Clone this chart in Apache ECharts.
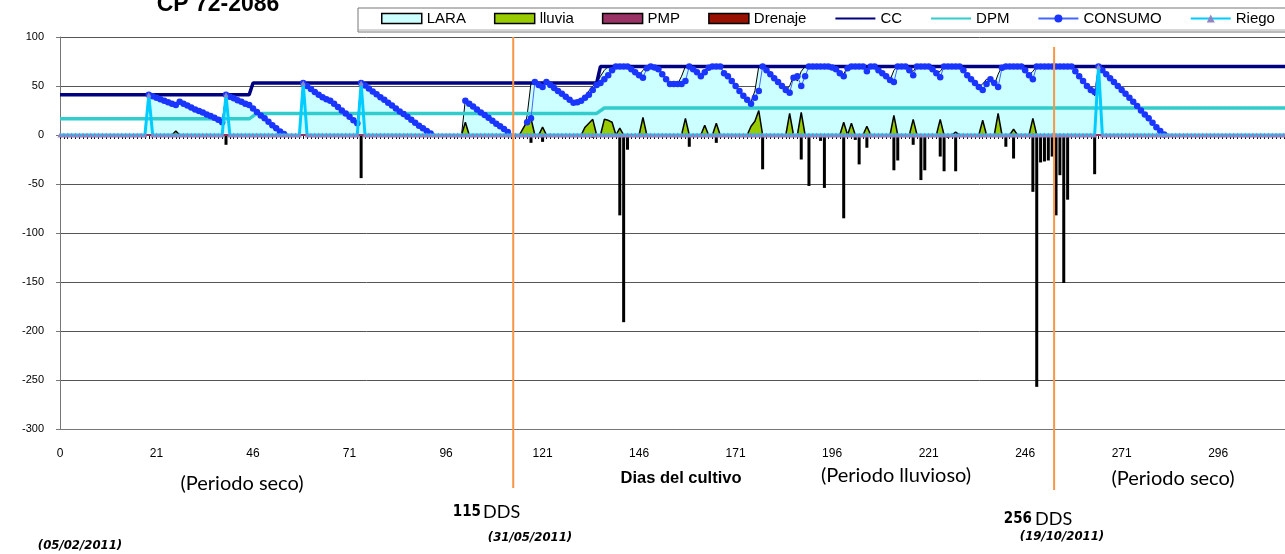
<!DOCTYPE html>
<html><head><meta charset="utf-8">
<script src="https://cdn.jsdelivr.net/npm/echarts@6.0.0/dist/echarts.min.js"></script>
<style>html,body{margin:0;padding:0;background:#fff}#c{width:1285px;height:554px}</style>
</head><body><div id="c"></div>
<script>
// ---------- DATA ----------
const xMax = 330;                       // last day position on the axis
const xTickLabels = ['0','21','46','71','96','121','146','171','196','221','246','271','296'];
const yTickValues = [100,50,0,-50,-100,-150,-200,-250,-300];

// LARA (day index 0..287)
const lara = [
  0,0,0,0,0,0,0,0,0,0, 0,0,0,0,0,0,0,0,0,0, 0,0,0,
  41,39.5,38,36.5,35,33.5,32,30.5,34,32,30,28,26,24.5,23,21,19.5,17.5,15.5,13,
  41,39,37.5,35.5,34,32,30.5,27,23.5,20,17,13.5,10,7,3.5,0,
  0,0,0,0,
  53,50,47,44,41,38.5,36.5,35,32,28.5,25,22,18.5,15,12,
  53,50.5,47.5,44.5,41.5,38.5,36,33,30,27,24,21.5,18.5,15.5,12.5,9.5,7,4,0,
  0,0,0,0,0,0,0,0,
  36,32,29,26,23,20.5,17.5,14.5,11.5,9,6,0,
  0,0,0,0,
  20,53,54,51,52,54,51,48,45,42,39,36,33,34,36,40,45,50,53,60,66,70,70,
  70,70,70,70,67,64,61,66,70,70,69,67,62,57,52,52,52,60,70,
  70,67,64,62,66,70,70,70,70,63,60,55,50,45,40,36,34,45,70,70,
  66,62,58,54,50,46,50,60,55,65,70,70,70,70,70,70,70,
  69,67,63,62,70,70,70,70,68,70,70,70,66,63,60,56,66,70,
  70,70,66,65,70,70,70,70,67,63,65,70,70,70,70,70,
  66,61,57,53,49,52,57,55,51,62,70,70,70,70,70,70,66,61,65,70,
  70,70,70,70,70,70,70,70,70,65,60,55,50,46,40,
  70,66,62,58,54,50,46,42,38,34,29.5,25,21,17,12.5,8,4,0,0
];

// CONSUMO (day index 0..286, null = no value)
const consumo = [
  null,null,null,null,null,null,null,null,null,null,
  null,null,null,null,null,null,null,null,null,null,
  null,null,null,
  41,39.5,38,36.5,35,33.5,32,30.5,34,32,30,28,26,24.5,23,21,19.5,17.5,15.5,13,
  41,39,37.5,35.5,34,32,30.5,27,23.5,20,17,13.5,10,7,3.5,1,
  null,null,null,null,
  53,50,47,44,41,38.5,36.5,35,32,28.5,25,22,18.5,15,12,
  53,50.5,47.5,44.5,41.5,38.5,36,33,30,27,24,21.5,18.5,15.5,12.5,9.5,7,4,1.5,
  null,null,null,null,null,null,null,null,
  35,32,29,26,23,20.5,17.5,14.5,11.5,9,6,3,
  null,null,null,null,
  13,17,54,51,49,54,51,48,45,42,39,36,33,33.5,35,38,41,46,51,53,57,61,66,
  70,70,70,70,67,64,61,58.5,68,70,69,67,62,57,52,52,52,52,55,
  70,67,64,60,64,68.5,70,70,70,63,60,55,50,45,40,36,32,38,45,70,
  66,62,58,54,50,46,43,58.5,60,50,60,70,70,70,70,70,70,
  69,67,63,60,68,70,70,70,70,65,70,70,66,63,60,56,54,70,
  70,70,66,61,70,70,70,70,67,63,59,70,70,70,70,70,
  66,61,57,53,49,46,52,57,53,49,68.5,70,70,70,70,70,66,61,57,70,
  70,70,70,70,70,70,70,70,70,65,60,55,50,46,44,
  70,66,62,58,54,50,46,42,38,34,29.5,25,21,17,12.5,8,4,0.5
];

// lluvia (rain) events
const lluviaDays = [30,105,120,121,122,125,136,137,138,141,142,143,145,151,162,167,170,179,180,181,189,192,203,205,209,216,221,228,232,239,243,247,252];
const lluviaVals = [4,13,7,14,17,8,8,12,16,16,15,13,7,18,17,10,12,9,14,25,22,23,13,12,9,20,16,16,3,15,22,6,17];

// Drenaje events (negative)
const drenDays = [43,78,122,125,138,145,146,147,163,170,182,192,194,197,198,203,206,207,209,216,217,221,223,224,228,229,230,232,245,247,252,253,254,255,256,257,258,259,260,261,268];
const drenVals = [-10,-44,-8,-7,-3,-82,-191,-15,-12,-8,-35,-25,-52,-6,-54,-85,-5,-30,-13,-36,-26,-10,-46,-36,-22,-37,-3,-37,-12,-24,-58,-257,-28,-27,-26,-22,-82,-41,-151,-66,-40];

// Riego (irrigation) events
const riegoDays = [23,43,63,78,269];
const riegoVals = [41,41,53,53,70];

// CC and DPM (breakpoints)
const ccDays = [0,49,50,139,140,330];
const ccVals = [41,41,53,53,70,70];
const dpmDays = [0,49,51,139,141,330];
const dpmVals = [16.5,16.5,22,22,27.5,27.5];
const pmpDays = [0,330];
const pmpVals = [0,0];

// vertical reference days (115 DDS, 256 DDS)
const markDays = [117.4, 257.5];

// ---------- BUILD ----------
const daily = arr => arr.map((v,i)=>[i,v]);
const pairs = (d,v) => d.map((x,k)=>[x,v[k]]);
function sparse(days, vals){
  const out=[]; for(let i=0;i<=xMax;i++) out.push([i,0]);
  days.forEach((d,k)=>{ out[d][1]=vals[k]; }); return out;
}
const FONT = "'Liberation Sans', Arial, sans-serif";
const NARROW = "'Liberation Sans Narrow','DejaVu Sans Condensed','Liberation Sans',sans-serif";

const chart = echarts.init(document.getElementById('c'), null, {renderer:'canvas'});
const option = {
  animation:false,
  backgroundColor:'#fff',
  grid:{left:60, top:37, width:1274, height:392, containLabel:false, outerBoundsMode:'none'},
  legend:{
    left:381, top:11, width:950, padding:0, itemGap:28, itemWidth:40, itemHeight:10,
    textStyle:{fontFamily:FONT, fontSize:15, color:'#000'},
    data:[
      {name:'LARA', icon:'rect', itemStyle:{color:'#CCFFFF', borderColor:'#000', borderWidth:1.5}},
      {name:'lluvia', icon:'rect', itemStyle:{color:'#99CC00', borderColor:'#000', borderWidth:1.5}},
      {name:'PMP', icon:'rect', itemStyle:{color:'#993366', borderColor:'#000', borderWidth:1.5}},
      {name:'Drenaje', icon:'rect', itemStyle:{color:'#991100', borderColor:'#000', borderWidth:1.5}},
      {name:'CC', itemStyle:{color:'rgba(0,0,0,0)', borderWidth:0}},
      {name:'DPM', itemStyle:{color:'rgba(0,0,0,0)', borderWidth:0}},
      {name:'CONSUMO'},
      {name:'Riego'}
    ]
  },
  xAxis:[{
    type:'value', min:0, max:xMax, interval:25, position:'bottom',
    axisLine:{onZero:false, lineStyle:{color:'#777'}},
    axisTick:{show:false}, splitLine:{show:false},
    axisLabel:{margin:19, fontFamily:FONT, fontSize:12, color:'#000',
      formatter:v=>{const k=Math.round(v/25); return (v%25===0 && xTickLabels[k]!==undefined)?xTickLabels[k]:'';}}
  },{
    type:'value', min:0, max:xMax, interval:1, position:'top',
    axisLine:{onZero:true, lineStyle:{color:'#777'}},
    axisTick:{show:true, inside:true, length:4, lineStyle:{color:'#000'}},
    axisLabel:{show:false}, splitLine:{show:false}
  }],
  yAxis:{
    type:'value', min:-300, max:100, interval:50,
    axisLine:{show:true, lineStyle:{color:'#777'}},
    axisTick:{show:true, length:4, lineStyle:{color:'#777'}},
    axisLabel:{margin:16, fontFamily:FONT, fontSize:11, color:'#000',
      formatter:v=> yTickValues.includes(v)? String(v):''},
    splitLine:{lineStyle:{color:'#555', width:1}}
  },
  series:[
    {name:'LARA', type:'line', data:daily(lara), symbol:'none', z:2,
      lineStyle:{color:'#000', width:1}, itemStyle:{color:'#CCFFFF'},
      areaStyle:{color:'#CCFFFF', opacity:1}},
    {name:'lluvia', type:'line', data:sparse(lluviaDays,lluviaVals), symbol:'none', z:3,
      lineStyle:{color:'#000', width:1.5}, itemStyle:{color:'#99CC00'},
      areaStyle:{color:'#99CC00', opacity:1}},
    {name:'PMP', type:'line', data:pairs(pmpDays,pmpVals), symbol:'none', z:3,
      lineStyle:{color:'#993366', width:2}, itemStyle:{color:'#993366'}},
    {name:'Drenaje', type:'bar', data:pairs(drenDays,drenVals), barWidth:3, z:3,
      itemStyle:{color:'#000'}},
    {name:'CC', type:'line', data:pairs(ccDays,ccVals), symbol:'none', z:4,
      lineStyle:{color:'#000080', width:3.5}, itemStyle:{color:'#000080'}},
    {name:'DPM', type:'line', data:pairs(dpmDays,dpmVals), symbol:'none', z:4,
      lineStyle:{color:'#33CCCC', width:3.5}, itemStyle:{color:'#33CCCC'}},
    {name:'CONSUMO', type:'line', data:daily(consumo), symbol:'circle', symbolSize:6.5, z:5,
      connectNulls:false,
      lineStyle:{color:'#4466FF', width:1}, itemStyle:{color:'#1a35ff'}},
    {name:'Riego', type:'line', data:sparse(riegoDays,riegoVals), symbol:'triangle', symbolSize:5, z:6,
      lineStyle:{color:'#00CCFF', width:3}, itemStyle:{color:'#9283c2'}}
  ]
};
chart.setOption(option);

const px = markDays.map(d=>chart.convertToPixel({xAxisIndex:0}, d));
const txt = (text,x,y,font,align,extra)=>Object.assign({type:'text', z:50, style:{text, x, y, font, fill:'#000', align:align||'center', verticalAlign:'middle'}}, extra||{});
chart.setOption({graphic:[
  {type:'rect', z:40, shape:{x:358, y:8, width:960, height:24}, style:{fill:null, stroke:'#777', lineWidth:1}},
  {type:'line', z:40, shape:{x1:358, y1:30, x2:1290, y2:30}, style:{stroke:'#aaa', lineWidth:1}},
  txt('CP 72-2086', 218, 5, "bold 23px "+FONT),
  txt('mm', 15, 275, "bold 14px "+FONT, 'center', {rotation:Math.PI/2}),
  txt('Dias del cultivo', 681, 478, "bold 16.5px "+FONT),
  txt('(Periodo seco)', 242, 484, "20px Lato, 'Open Sans', sans-serif"),
  txt('(Periodo lluvioso)', 896, 476, "20px Lato, 'Open Sans', sans-serif"),
  txt('(Periodo seco)', 1173, 479, "20px Lato, 'Open Sans', sans-serif"),
  txt('115', 481, 512, "bold 15px "+NARROW, 'right'),
  txt('DDS', 483, 512, "18px Lato, sans-serif", 'left'),
  txt('(31/05/2011)', 530, 538, "italic bold 13px "+NARROW),
  txt('256', 1032, 519, "bold 15px "+NARROW, 'right'),
  txt('DDS', 1035, 519, "18px Lato, sans-serif", 'left'),
  txt('(19/10/2011)', 1062, 537, "italic bold 13px "+NARROW),
  txt('(05/02/2011)', 80, 546, "italic bold 13px "+NARROW),
  {type:'line', z:45, shape:{x1:px[0], y1:37, x2:px[0], y2:488}, style:{stroke:'#F79646', lineWidth:2}},
  {type:'line', z:45, shape:{x1:px[1], y1:47, x2:px[1], y2:490}, style:{stroke:'#F79646', lineWidth:2}}
]});
</script></body></html>
